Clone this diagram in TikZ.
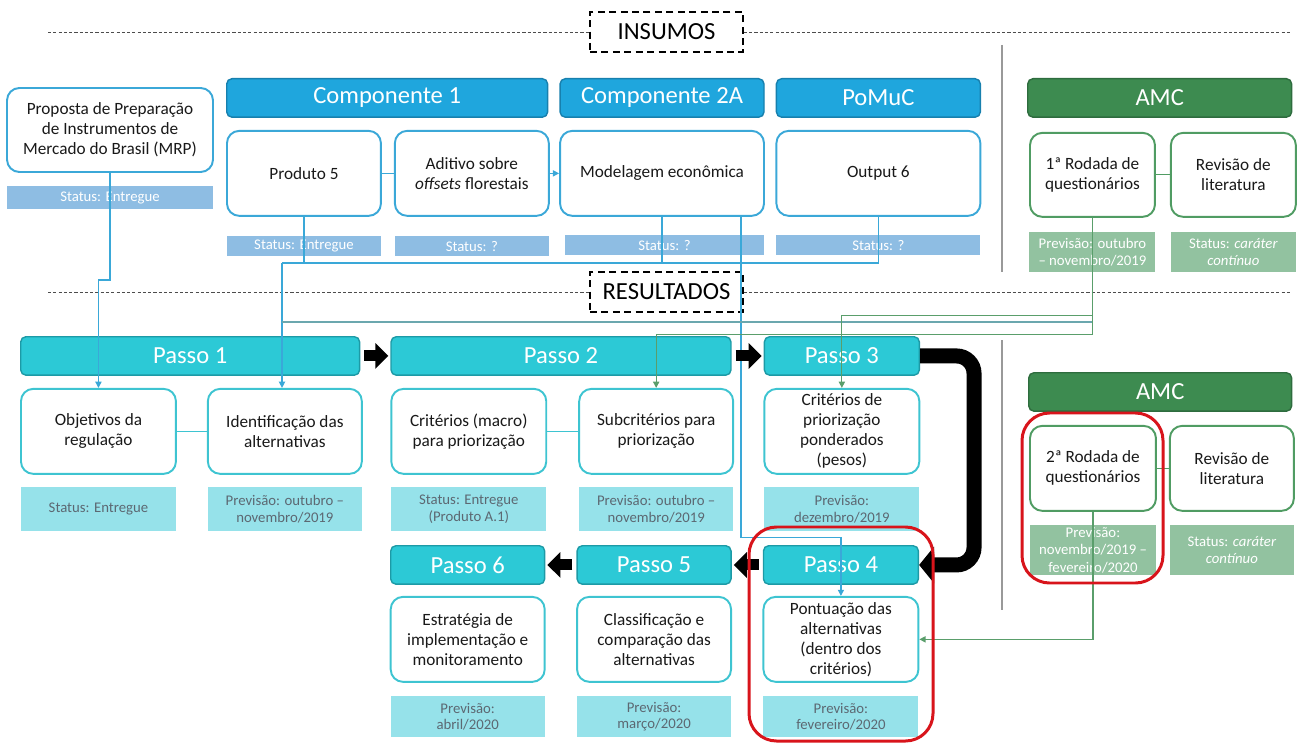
\documentclass[tikz,border=0pt]{standalone}
\usepackage{fontspec}
\setmainfont{Carlito}
\usepackage{tikz}
\usetikzlibrary{arrows.meta}
\usetikzlibrary{positioning}

\definecolor{compfill}{HTML}{1FA6DD}
\definecolor{compedge}{HTML}{1780AE}
\definecolor{topedge}{HTML}{3BA8D8}
\definecolor{toptagfill}{HTML}{8EBDE3}
\definecolor{passofill}{HTML}{2CC9D6}
\definecolor{passoedge}{HTML}{1D9AA6}
\definecolor{stepedge}{HTML}{3EC4D1}
\definecolor{steptagfill}{HTML}{96E2EA}
\definecolor{steptagtext}{HTML}{5C6872}
\definecolor{amcfill}{HTML}{3D8B50}
\definecolor{amcedge}{HTML}{2E6C3E}
\definecolor{amcline}{HTML}{509C63}
\definecolor{amctagfill}{HTML}{92C2A0}
\definecolor{linkblue}{HTML}{3AA8D8}
\definecolor{linkgreen}{HTML}{5A9E6B}
\definecolor{linkteal}{HTML}{6BA7AE}
\definecolor{hlred}{HTML}{D8141B}

\tikzstyle{section} = [rectangle, draw=black, line width=1pt, dash pattern=on 4pt off 2.5pt,
    minimum width=3.06cm, minimum height=0.8cm, font=\fontsize{14}{16}\selectfont]
\tikzstyle{sepline} = [draw=black!70, line width=0.5pt, dash pattern=on 1.8pt off 1.2pt]
\tikzstyle{divider} = [draw=black!40, line width=0.6pt]
\tikzstyle{hdr} = [rectangle, rounded corners=3pt, line width=0.8pt, text=white,
    font=\fontsize{14}{16}\selectfont, minimum height=0.77cm, inner sep=0pt]
\tikzstyle{comphdr} = [hdr, draw=compedge, fill=compfill]
\tikzstyle{passohdr} = [hdr, draw=passoedge, fill=passofill]
\tikzstyle{amchdr} = [hdr, draw=amcedge, fill=amcfill]
\tikzstyle{card} = [rectangle, rounded corners=7pt, line width=1.1pt, fill=white, align=center,
    font=\fontsize{9.8}{11.4}\selectfont, minimum height=1.7cm, inner sep=1pt, text=black!90]
\tikzstyle{topcard} = [card, draw=topedge]
\tikzstyle{stepcard} = [card, draw=stepedge]
\tikzstyle{amccard} = [card, draw=amcline]
\tikzstyle{tag} = [rectangle, align=center, inner sep=0pt, font=\fontsize{8.4}{9.4}\selectfont]
\tikzstyle{toptag} = [tag, fill=toptagfill, text=white, minimum height=0.4cm]
\tikzstyle{steptag} = [tag, fill=steptagfill, text=steptagtext, minimum height=0.88cm]
\tikzstyle{amctag} = [tag, fill=amctagfill, text=white, font=\fontsize{8.4}{10}\selectfont]
\tikzstyle{bluelink} = [draw=linkblue, line width=0.7pt]
\tikzstyle{bluearrow} = [bluelink, -{Triangle[length=3.5pt,width=3.5pt]}]
\tikzstyle{greenlink} = [draw=linkgreen, line width=0.7pt]
\tikzstyle{greenarrow} = [greenlink, -{Triangle[length=3.5pt,width=3.5pt]}]
\tikzstyle{steplink} = [draw=stepedge, line width=0.8pt]
\tikzstyle{amclink} = [draw=amcline, line width=0.7pt]
\tikzstyle{blockarrow} = [black, line width=0.22cm, -{Triangle[length=0.26cm,width=0.5cm]},
    shorten <=0.08cm, shorten >=0.04cm]
\tikzstyle{bigarrow} = [black, line width=0.3cm, rounded corners=0.35cm,
    -{Triangle[length=0.3cm,width=0.72cm]}]
\tikzstyle{highlight} = [draw=hlred, line width=1.7pt, rounded corners=0.55cm]

\begin{document}
\begin{tikzpicture}[x=0.02cm, y=-0.02cm]
\useasboundingbox (0,0) rectangle (1297,743);

% sections
\node (insumos) [section] at (666.5,32) {INSUMOS};
\node (resultados) [section] at (666.5,292) {RESULTADOS};
\coordinate (insL) at (48,32);
\coordinate (insR) at (1290,32);
\coordinate (resL) at (48,292);
\coordinate (resR) at (1290,292);
\draw [sepline] (insL) -- (insumos);
\draw [sepline] (insumos) -- (insR);
\draw [sepline] (resL) -- (resultados);
\draw [sepline] (resultados) -- (resR);
\draw [divider] (1002,45) -- (1002,272);
\draw [divider] (1002,340) -- (1002,610);

% insumos
\node (mrp) [topcard, minimum width=4.12cm, minimum height=1.68cm] at (110,130) {
    Proposta de Preparação\\
    de Instrumentos de\\
    Mercado do Brasil (MRP)
};
\node (mrpst) [toptag, minimum width=4.12cm, minimum height=0.46cm, below=0.26cm of mrp] {Status: Entregue};

\node (comp1) [comphdr, minimum width=6.42cm, anchor=north west] at (226,78) {Componente 1};
\node (comp2a) [comphdr, minimum width=4.08cm, right=0.22cm of comp1] {Componente 2A};
\node (pomuc) [comphdr, minimum width=4.08cm, right=0.22cm of comp2a] {PoMuC};

\node (prod5) [topcard, minimum width=3.08cm, below right=0.24cm and 0cm of comp1.south west] {Produto 5};
\node (aditivo) [topcard, minimum width=3.08cm, right=0.24cm of prod5] {
    Aditivo sobre\\
    \textit{offsets} florestais
};
\node (model) [topcard, minimum width=4.08cm, below=0.24cm of comp2a] {Modelagem econômica};
\node (output6) [topcard, minimum width=4.08cm, below=0.24cm of pomuc] {Output 6};

\node (prod5st) [toptag, minimum width=3.08cm, below=0.38cm of prod5] {Status: Entregue};
\node (aditst) [toptag, minimum width=3.08cm, below=0.38cm of aditivo] {Status: ?};
\node (modelst) [toptag, minimum width=3.98cm, below=0.36cm of model, xshift=0.05cm] {Status: ?};
\node (outst) [toptag, minimum width=4.08cm, below=0.36cm of output6] {Status: ?};

\node (amc1) [amchdr, minimum width=5.28cm, anchor=north west] at (1027,78) {AMC};
\node (rod1) [amccard, minimum width=2.5cm, minimum height=1.68cm, below right=0.28cm and 0.04cm of amc1.south west] {
    1ª Rodada de\\
    questionários
};
\node (rev1) [amccard, minimum width=2.5cm, minimum height=1.68cm, right=0.28cm of rod1] {
    Revisão de\\
    literatura
};
\node (rod1st) [amctag, minimum width=2.52cm, minimum height=0.8cm, below=0.28cm of rod1] {
    Previsão: outubro\\
    – novembro/2019
};
\node (rev1st) [amctag, minimum width=2.5cm, minimum height=0.8cm, below=0.28cm of rev1] {
    Status: \textit{caráter}\\
    \textit{contínuo}
};

% resultados
\node (passo1) [passohdr, minimum width=6.78cm, anchor=north west] at (20,336) {Passo 1};
\node (passo2) [passohdr, minimum width=6.8cm, right=0.6cm of passo1] {Passo 2};
\node (passo3) [passohdr, minimum width=3.1cm, right=0.64cm of passo2] {Passo 3};

\node (obj) [stepcard, minimum width=3.1cm, below right=0.24cm and 0cm of passo1.south west] {
    Objetivos da\\
    regulação
};
\node (ident) [stepcard, minimum width=3.08cm, right=0.6cm of obj] {
    Identificação das\\
    alternativas
};
\node (crit) [stepcard, minimum width=3.1cm, below right=0.24cm and 0cm of passo2.south west] {
    Critérios (macro)\\
    para priorização
};
\node (subcrit) [stepcard, minimum width=3.08cm, right=0.62cm of crit] {
    Subcritérios para\\
    priorização
};
\node (pond) [stepcard, minimum width=3.1cm, below=0.24cm of passo3] {
    Critérios de\\
    priorização\\
    ponderados\\
    (pesos)
};

\node (objst) [steptag, minimum width=3.1cm, below=0.24cm of obj] {Status: Entregue};
\node (identst) [steptag, minimum width=3.08cm, below=0.24cm of ident] {
    Previsão: outubro –\\
    novembro/2019
};
\node (critst) [steptag, minimum width=3.1cm, below=0.24cm of crit] {
    Status: Entregue\\
    (Produto A.1)
};
\node (subcritst) [steptag, minimum width=3.08cm, below=0.24cm of subcrit] {
    Previsão: outubro –\\
    novembro/2019
};
\node (pondst) [steptag, minimum width=3.1cm, below=0.24cm of pond] {
    Previsão:\\
    dezembro/2019
};

\node (passo6) [passohdr, minimum width=3.08cm, anchor=north west] at (390,545) {Passo 6};
\node (passo5) [passohdr, minimum width=3.08cm, right=0.62cm of passo6] {Passo 5};
\node (passo4) [passohdr, minimum width=3.1cm, right=0.62cm of passo5] {Passo 4};

\node (estrat) [stepcard, minimum width=3.08cm, below=0.22cm of passo6] {
    Estratégia de\\
    implementação e\\
    monitoramento
};
\node (classif) [stepcard, minimum width=3.08cm, below=0.22cm of passo5] {
    Classificação e\\
    comparação das\\
    alternativas
};
\node (pontu) [stepcard, minimum width=3.1cm, below=0.22cm of passo4] {
    Pontuação das\\
    alternativas\\
    (dentro dos\\
    critérios)
};

\node (estratst) [steptag, minimum width=3.08cm, minimum height=0.82cm, below=0.26cm of estrat] {
    Previsão:\\
    abril/2020
};
\node (classifst) [steptag, minimum width=3.08cm, minimum height=0.82cm, below=0.26cm of classif] {
    Previsão:\\
    março/2020
};
\node (pontust) [steptag, minimum width=3.1cm, minimum height=0.82cm, below=0.26cm of pontu] {
    Previsão:\\
    fevereiro/2020
};

\node (amc2) [amchdr, minimum width=5.26cm, anchor=north west] at (1028,372) {AMC};
\node (rod2) [amccard, minimum width=2.52cm, below right=0.26cm and 0.02cm of amc2.south west] {
    2ª Rodada de\\
    questionários
};
\node (rev2) [amccard, minimum width=2.48cm, right=0.24cm of rod2] {
    Revisão de\\
    literatura
};
\node (rod2st) [amctag, minimum width=2.52cm, minimum height=1.0cm, below=0.26cm of rod2] {
    Previsão:\\
    novembro/2019 –\\
    fevereiro/2020
};
\node (rev2st) [amctag, minimum width=2.48cm, minimum height=1.0cm, below=0.26cm of rev2] {
    Status: \textit{caráter}\\
    \textit{contínuo}
};

% links
\draw [bluelink] (prod5) -- (aditivo);
\draw [bluearrow] (aditivo) -- (model);
\draw [amclink] (rod1) -- (rev1);
\draw [amclink] (rod2) -- (rev2);
\draw [steplink] (obj) -- (ident);
\draw [steplink] (crit) -- (subcrit);

\coordinate (bus) at (282,263);
\coordinate (join) at (282,322);
\draw [bluearrow] (mrp.south) -- ++(0,107) -| (obj.north);
\draw [bluelink] (prod5.south) |- (bus);
\draw [bluelink] (model.south) |- (bus);
\draw [bluelink] (output6.south) |- (bus);
\draw [bluearrow] (bus) -- (bus |- ident.north);
\draw [bluearrow] ([xshift=1.58cm]model.south) -- ++(0,321) -| (pontu.north);
\draw [linkteal, line width=0.7pt] (rod1.south) |- (join);
\draw [greenarrow] (rod1.south) -- ++(0,98) -| (pond.north);
\draw [greenarrow] (rod1.south) -- ++(0,117) -| (subcrit.north);
\draw [greenarrow] (rod2.south) |- (pontu.east);

% passos
\draw [blockarrow] (passo1) -- (passo2);
\draw [blockarrow] (passo2) -- (passo3);
\draw [bigarrow] (passo3.east) -- ++(54,0) |- (passo4.east);
\draw [blockarrow] (passo4) -- (passo5);
\draw [blockarrow] (passo5) -- (passo6);

% destaque
\draw [highlight] (749,527) rectangle (933,741);
\draw [highlight] (1022,413) rectangle (1163,583);
\end{tikzpicture}
\end{document}
